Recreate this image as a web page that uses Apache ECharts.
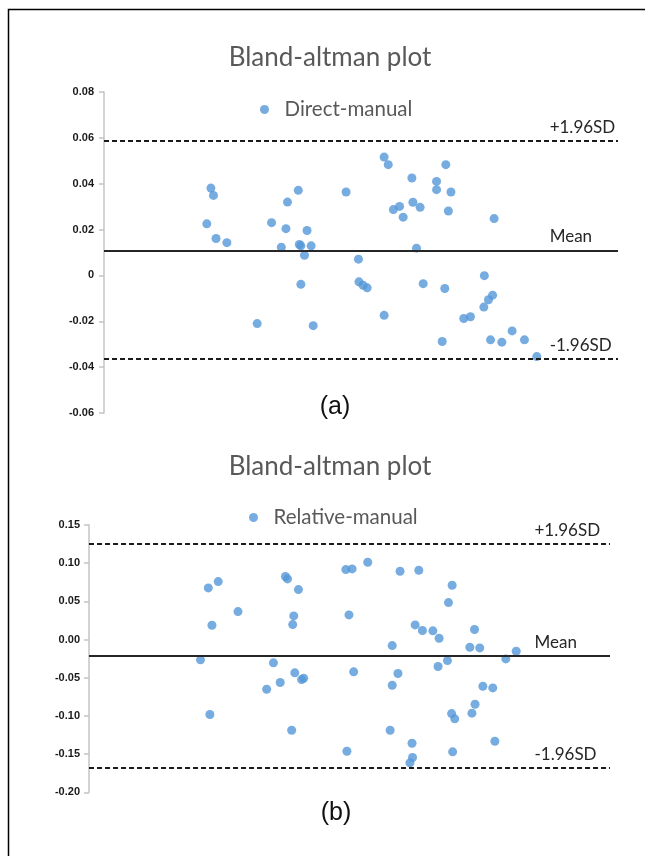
<!DOCTYPE html>
<html>
<head>
<meta charset="utf-8">
<script src="https://cdn.jsdelivr.net/npm/echarts@6/dist/echarts.min.js"></script>
<style>
html,body{margin:0;padding:0;background:#fff;}
#chart{width:645px;height:856px;}
</style>
</head>
<body>
<div id="chart"></div>
<script>
// ---- Data (a): Direct-manual ----
const directX = [20.8,21.3,20.0,21.8,23.9,29.8,32.6,35.7,37.8,35.4,34.5,38.0,38.3,39.5,40.3,39.0,38.3,40.7,47.1,49.5,49.6,50.4,51.2,54.5,54.5,55.3,56.3,57.5,58.2,59.9,60.1,61.5,60.8,62.1,64.7,64.7,66.5,67.5,67.0,66.3,65.8,70.0,71.3,74.0,75.6,74.8,73.9,75.9,75.2,77.4,79.4,81.8,84.2];
const directDiff = [0.0381,0.0349,0.0225,0.0161,0.0143,-0.0210,0.0230,0.0320,0.0371,0.0204,0.0123,0.0135,0.0129,0.0196,0.0129,0.0088,-0.0039,-0.0219,0.0364,0.0071,-0.0028,-0.0043,-0.0054,-0.0174,0.0516,0.0483,0.0287,0.0301,0.0254,0.0425,0.0319,0.0297,0.0119,-0.0036,0.0410,0.0374,0.0483,0.0364,0.0281,-0.0057,-0.0288,-0.0188,-0.0180,-0.0001,-0.0086,-0.0106,-0.0138,0.0248,-0.0281,-0.0291,-0.0242,-0.0281,-0.0354];
const directStats = {mean: 0.0109, upper: 0.0587, lower: -0.0365};
const directTicks = {min: -0.06, max: 0.08, interval: 0.02};

// ---- Data (b): Relative-manual ----
const relativeX = [22.9,24.8,23.6,28.6,21.4,23.2,37.7,38.1,40.2,39.3,39.1,35.4,34.1,36.7,39.5,40.8,41.2,38.9,49.3,50.5,53.5,49.9,50.8,49.5,59.7,63.3,58.2,59.3,58.2,57.8,62.6,64.0,66.0,67.2,62.0,62.1,61.6,69.7,69.0,68.8,67.0,74.0,73.1,75.0,69.6,70.2,69.8,74.1,73.5,75.6,77.5,77.9,80.0,82.0];
const relativeDiff = [0.0676,0.0759,0.0188,0.0366,-0.0266,-0.0982,0.0825,0.0794,0.0654,0.0310,0.0196,-0.0305,-0.0650,-0.0563,-0.0436,-0.0524,-0.0506,-0.1187,0.0916,0.0925,0.1012,0.0323,-0.0423,-0.1462,0.0894,0.0907,-0.0079,-0.0445,-0.0598,-0.1187,0.0192,0.0118,0.0114,0.0017,-0.1357,-0.1545,-0.1614,0.0711,0.0484,-0.0275,-0.0353,0.0131,-0.0101,-0.0109,-0.0969,-0.1038,-0.1470,-0.0847,-0.0964,-0.0611,-0.0633,-0.1331,-0.0253,-0.0153];
const relativeStats = {mean: -0.0209, upper: 0.1253, lower: -0.1685};
const relativeTicks = {min: -0.20, max: 0.15, interval: 0.05};

const refNames = ['+1.96SD', 'Mean', '-1.96SD'];
const titleText = 'Bland-altman plot';
const seriesNames = ['Direct-manual', 'Relative-manual'];
const panelTags = ['(a)', '(b)'];

const BLUE = '#5497d7';
const AXIS_GRAY = '#c4c4c4';

function pairs(xs, ys){ return xs.map((x,i)=>[x, ys[i]]); }

function yAxisFor(ticks, gridIndex, fmt, margin){
  return {
    type:'value', gridIndex, min:ticks.min, max:ticks.max, interval:ticks.interval,
    axisLine:{show:true, lineStyle:{color:AXIS_GRAY, width:1.5}},
    axisTick:{show:true, length:5, lineStyle:{color:AXIS_GRAY, width:1.5}},
    splitLine:{show:false},
    axisLabel:{color:'#1a1a1a', fontFamily:'Liberation Sans', fontWeight:'bold', fontSize:11, margin, formatter:fmt}
  };
}

function refLines(stats){
  const dash = {type:[5,3], color:'#1a1a1a', width:2};
  return {
    silent:true, symbol:['none','none'], label:{show:false}, animation:false, precision:6,
    data:[
      {yAxis:stats.upper, lineStyle:dash},
      {yAxis:stats.mean, lineStyle:{type:'solid', color:'#262626', width:2}},
      {yAxis:stats.lower, lineStyle:dash}
    ]
  };
}

function refLabelSeries(stats, xIdx, yIdx, xAnchor){
  const vals = [stats.upper, stats.mean, stats.lower];
  return {
    type:'scatter', name:'refLabels'+xIdx, xAxisIndex:xIdx, yAxisIndex:yIdx,
    symbolSize:1, itemStyle:{color:'rgba(0,0,0,0)'}, silent:true, animation:false,
    data: vals.map((v,i)=>({value:[xAnchor, v], label:{formatter:refNames[i]}})),
    label:{show:true, position:[0,-13], align:'left', verticalAlign:'middle',
      fontFamily:'Lato', fontSize:17, color:'#262626', opacity:1}
  };
}

const chart = echarts.init(document.getElementById('chart'), null, {renderer:'canvas'});
chart.setOption({
  backgroundColor:'#ffffff',
  animation:false,
  grid:[
    {left:104, top:92, width:514, height:321},
    {left:89, top:525, width:521, height:267.3}
  ],
  xAxis:[
    {type:'value', gridIndex:0, min:0, max:100, show:false},
    {type:'value', gridIndex:1, min:0, max:100, show:false}
  ],
  yAxis:[
    yAxisFor(directTicks, 0, v => Math.abs(v) < 1e-9 ? '0' : v.toFixed(2), 10),
    yAxisFor(relativeTicks, 1, v => (Math.abs(v) < 1e-9 ? 0 : v).toFixed(2), 9)
  ],
  legend:[
    {data:[seriesNames[0]], left:255, top:94, icon:'circle', itemWidth:30, itemHeight:9,
     textStyle:{fontFamily:'Lato', fontSize:20.5, color:'#595959'}},
    {data:[seriesNames[1]], left:244, top:502, icon:'circle', itemWidth:30, itemHeight:9,
     textStyle:{fontFamily:'Lato', fontSize:20.5, color:'#595959'}}
  ],
  series:[
    {type:'scatter', name:seriesNames[0], xAxisIndex:0, yAxisIndex:0, symbolSize:9,
     itemStyle:{color:BLUE}, data:pairs(directX, directDiff), markLine:refLines(directStats)},
    {type:'scatter', name:seriesNames[1], xAxisIndex:1, yAxisIndex:1, symbolSize:9,
     itemStyle:{color:BLUE}, data:pairs(relativeX, relativeDiff), markLine:refLines(relativeStats)},
    refLabelSeries(directStats, 0, 0, 86.8),
    refLabelSeries(relativeStats, 1, 1, 85.6)
  ],
  graphic:[
    {type:'rect', shape:{x:8.5, y:9.5, width:700, height:900}, style:{fill:'none', stroke:'#000', lineWidth:1.5}, silent:true},
    {type:'text', x:330, y:58, style:{text:titleText, font:'26px Lato', fill:'#595959', align:'center', verticalAlign:'middle'}},
    {type:'text', x:330, y:467, style:{text:titleText, font:'26px Lato', fill:'#595959', align:'center', verticalAlign:'middle'}},
    {type:'text', x:335, y:407, style:{text:panelTags[0], font:'25px "Liberation Sans"', fill:'#111', align:'center', verticalAlign:'middle'}},
    {type:'text', x:336, y:813, style:{text:panelTags[1], font:'25px "Liberation Sans"', fill:'#111', align:'center', verticalAlign:'middle'}}
  ]
});
</script>
</body>
</html>
